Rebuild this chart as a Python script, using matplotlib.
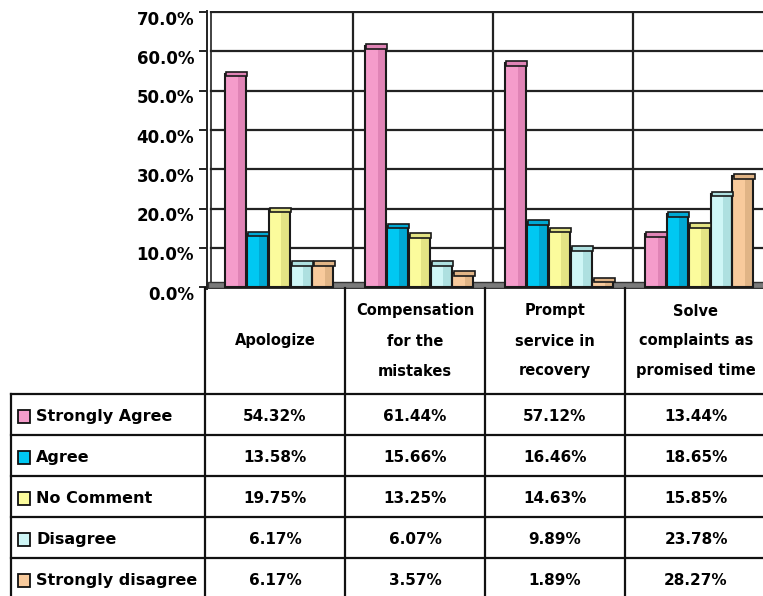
import matplotlib
matplotlib.use("Agg")
import matplotlib.pyplot as plt
from matplotlib.transforms import ScaledTranslation
from matplotlib.patches import Rectangle

# ---------------- data ----------------
categories = ["Apologize", "Compensation\nfor the\nmistakes", "Prompt\nservice in\nrecovery",
              "Solve\ncomplaints as\npromised time"]
series_names = ["Strongly Agree", "Agree", "No Comment", "Disagree", "Strongly disagree"]
strongly_agree = [54.32, 61.44, 57.12, 13.44]
agree = [13.58, 15.66, 16.46, 18.65]
no_comment = [19.75, 13.25, 14.63, 15.85]
disagree = [6.17, 6.07, 9.89, 23.78]
strongly_disagree = [6.17, 3.57, 1.89, 28.27]
series_values = [strongly_agree, agree, no_comment, disagree, strongly_disagree]
yticks = [0, 10, 20, 30, 40, 50, 60, 70]

light = ["#F59CCB", "#00C8F2", "#FBFB9C", "#CFF6F6", "#F8CA9C"]
dark = ["#E084B6", "#00A9D4", "#E3E384", "#AEE0E0", "#E0B486"]

W, H = 763, 596
fig = plt.figure(figsize=(W / 100, H / 100), dpi=100)
plt.rcParams['font.family'] = ['DejaVu Sans']

# ---------------- chart axes ----------------
ax_left, ax_right = 205, 765
ax_top, ax_bottom = 11, 289
ax = fig.add_axes([ax_left / W, 1 - ax_bottom / H, (ax_right - ax_left) / W, (ax_bottom - ax_top) / H])
ax.set_xlim(0, 4)
ax.set_ylim(-0.5, 70.3)
ax.set_facecolor("white")
for s in ["top", "right", "bottom"]:
    ax.spines[s].set_visible(False)
ax.spines["left"].set_linewidth(1.4)
ax.spines["left"].set_color("#222222")
ax.spines["left"].set_position(("data", 0.012))

# back wall grid
for t in yticks[1:]:
    ax.plot([0.045, 4], [t, t], color="#222222", lw=1.6, zorder=1)
for i in range(1, 4):
    ax.plot([i + 0.055, i + 0.055], [0, 70], color="#222222", lw=1.6, zorder=1)
ax.plot([0.045, 0.045], [0, 70], color="#222222", lw=1.2, zorder=1)
# floor
ax.add_patch(Rectangle((0.02, -0.3), 4, 1.5, facecolor="#7a7a7a", edgecolor="#333333", lw=1, zorder=1))

bw = 0.15
step = 0.156
for j, vals in enumerate(series_values):
    xs = [i + 0.53 + (j - 2) * step for i in range(len(categories))]
    ax.bar(xs, vals, width=bw, color=light[j], edgecolor="none", zorder=3)
    ax.bar([x + bw * 0.3 for x in xs], vals, width=bw * 0.4, color=dark[j], edgecolor="none", zorder=3)
    ax.bar(xs, vals, width=bw, fill=False, edgecolor="#1a1a1a", lw=1.5, zorder=4)
    # cylinder-like top cap
    ax.bar([x + 0.01 for x in xs], [1.2] * len(vals), bottom=[v - 0.7 for v in vals], width=bw,
           color=dark[j], edgecolor="#1a1a1a", lw=1.2, zorder=5)

ax.set_yticks(yticks)
ax.set_yticklabels([f"{t:.1f}%" for t in yticks])
ax.set_xticks([])
ax.tick_params(axis="y", length=6, width=1.4, color="#222222", pad=3, labelsize=12)
for lab in ax.get_yticklabels():
    lab.set_fontweight("bold")
    lab.set_transform(lab.get_transform() + ScaledTranslation(0, -4 / 72, fig.dpi_scale_trans))

# ---------------- data table (pixel overlay) ----------------
tab = fig.add_axes([0, 0, 1, 1], zorder=10)
tab.set_xlim(0, W)
tab.set_ylim(H, 0)
tab.axis("off")
tab.patch.set_alpha(0)

col_x = [205, 345, 485, 625, 765]
legend_left = 11
header_top, header_bottom = 288, 394
row_h = 41
lc = "#111111"
lw = 1.6

for x in col_x[:-1]:
    tab.plot([x, x], [header_top, H + 2], color=lc, lw=lw)
tab.plot([legend_left, legend_left], [header_bottom, H + 2], color=lc, lw=lw)
for r in range(len(series_names)):
    y = header_bottom + r * row_h
    tab.plot([legend_left, W], [y, y], color=lc, lw=lw)

# header labels
center_y = (header_top + header_bottom) / 2
for i, cat in enumerate(categories):
    cx = (col_x[i] + col_x[i + 1]) / 2 if i < 3 else (col_x[i] + W) / 2 + 2
    lines = cat.split("\n")
    n = len(lines)
    for k, line in enumerate(lines):
        y = center_y + (k - (n - 1) / 2) * 30
        tab.text(cx, y, line, ha="center", va="center", fontsize=10.5, fontweight="bold", color="black")

# rows
for r, (name, vals) in enumerate(zip(series_names, series_values)):
    yc = header_bottom + r * row_h + row_h / 2 + 2
    tab.add_patch(Rectangle((18, yc - 6.5), 12, 13, facecolor=light[r], edgecolor="#111111", lw=1.3))
    tab.text(36, yc, name, ha="left", va="center", fontsize=11.5, fontweight="bold", color="black")
    for i, v in enumerate(vals):
        cx = (col_x[i] + col_x[i + 1]) / 2 if i < 3 else (col_x[i] + W) / 2 + 2
        tab.text(cx, yc, f"{v:.2f}%", ha="center", va="center", fontsize=11, fontweight="bold", color="black")

fig.savefig("out.png", dpi=100)
